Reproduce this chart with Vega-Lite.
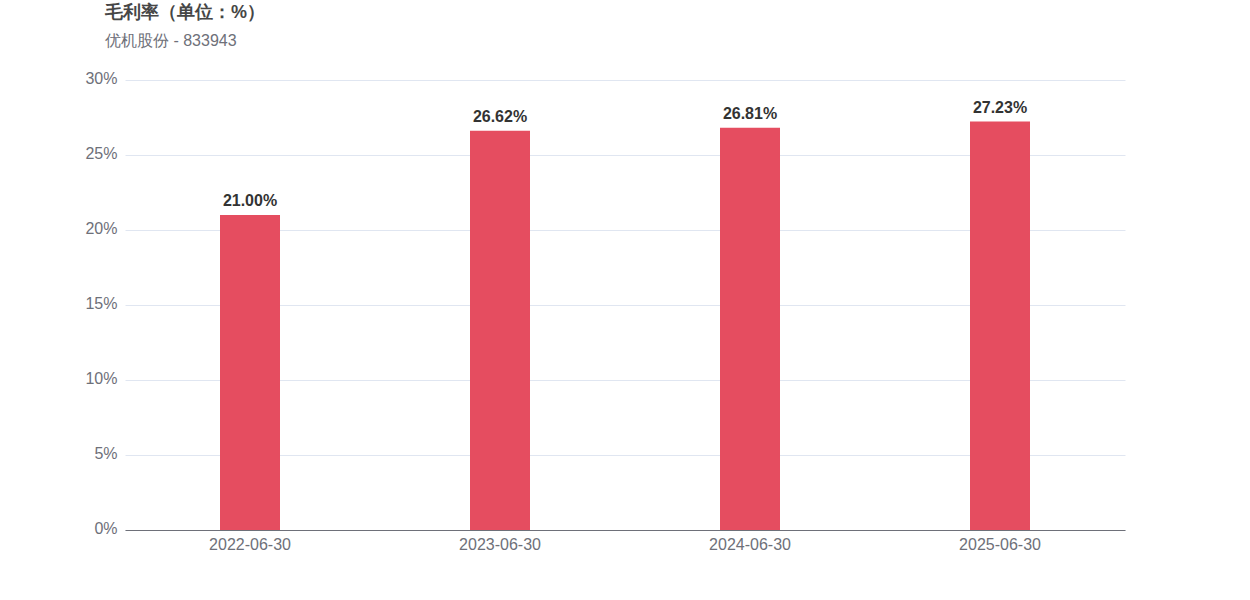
{
  "$schema": "https://vega.github.io/schema/vega-lite/v6.json",
  "width": 1000,
  "height": 450,
  "autosize": "none",
  "padding": {"left": 125, "top": 80, "right": 125, "bottom": 70},
  "background": "white",
  "config": {
    "font": "Liberation Sans",
    "view": {"stroke": null}
  },
  "title": {
    "text": "毛利率（单位：%）",
    "subtitle": "优机股份 - 833943",
    "anchor": "start",
    "frame": "group",
    "dx": -20,
    "offset": 21,
    "font": "Liberation Sans",
    "fontSize": 18,
    "fontWeight": "bold",
    "color": "#464646",
    "subtitleFont": "Liberation Sans",
    "subtitleFontSize": 16,
    "subtitleColor": "#6E7079",
    "subtitlePadding": 11
  },
  "data": {
    "values": [
      {"date": "2022-06-30", "rate": 0.2100},
      {"date": "2023-06-30", "rate": 0.2662},
      {"date": "2024-06-30", "rate": 0.2681},
      {"date": "2025-06-30", "rate": 0.2723}
    ]
  },
  "encoding": {
    "x": {
      "field": "date",
      "type": "nominal",
      "sort": null,
      "title": null,
      "scale": {"paddingInner": 0.76, "paddingOuter": 0.38},
      "axis": {
        "labelAngle": 0,
        "labelFontSize": 16,
        "labelColor": "#6E7079",
        "labelPadding": 6,
        "ticks": false,
        "domainColor": "#6E7079",
        "domainWidth": 1
      }
    },
    "y": {
      "field": "rate",
      "type": "quantitative",
      "title": null,
      "scale": {"domain": [0, 0.3], "nice": false},
      "axis": {
        "values": [0, 0.05, 0.1, 0.15, 0.2, 0.25, 0.3],
        "format": ".0%",
        "labelFontSize": 16,
        "labelColor": "#6E7079",
        "labelPadding": 8,
        "labelBaseline": "middle",
        "labelOffset": -2,
        "ticks": false,
        "domain": false,
        "gridColor": "#E0E6F1",
        "gridWidth": 1
      }
    }
  },
  "layer": [
    {
      "mark": {"type": "bar", "color": "#E54D60"}
    },
    {
      "mark": {"type": "text", "baseline": "bottom", "dy": -6, "fontSize": 16, "fontWeight": "bold", "color": "#333333"},
      "encoding": {
        "text": {"field": "rate", "type": "quantitative", "format": ".2%"}
      }
    }
  ]
}
